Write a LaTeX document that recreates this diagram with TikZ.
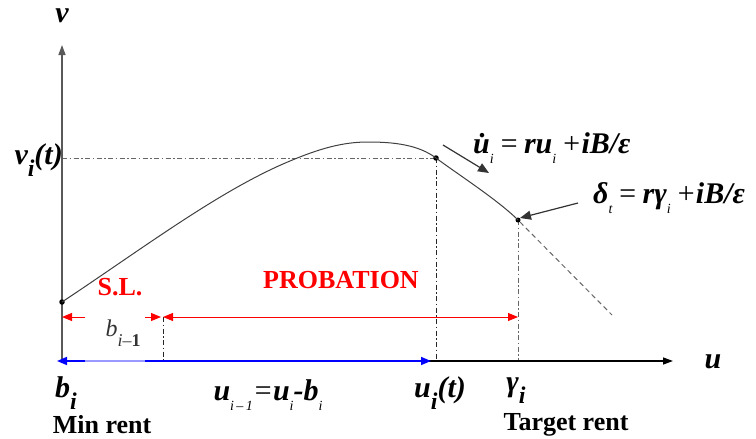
\documentclass[tikz,border=0pt]{standalone}
\usepackage{fontspec}
\setmainfont{Liberation Serif}
\usepackage{amsmath}
\usetikzlibrary{arrows.meta}
\newcommand\ls[1]{\raisebox{-0.35em}{\mdseries\itshape\fontsize{14}{14}\selectfont #1}}
\newcommand\bs[1]{\raisebox{-0.4em}{\fontsize{24}{24}\selectfont #1}}
\begin{document}
\begin{tikzpicture}[x=1pt,y=-1pt,
  axis/.style={draw=black!65, line width=1.3pt, -{Triangle[length=10pt,width=7pt]}},
  ddot/.style={draw=black!60, line width=0.9pt, dash pattern=on 5pt off 2.5pt on 1.5pt off 2.5pt},
  curve/.style={draw=black!75, line width=1pt},
  lbl/.style={inner sep=0pt, font=\fontsize{30}{32}\selectfont\bfseries\itshape},
  txt/.style={inner sep=0pt, font=\fontsize{26}{28}\selectfont\bfseries},
  redtxt/.style={txt, text=red},
  redarr/.style={draw=red, line width=1pt, -{Triangle[length=10pt,width=8pt]}},
  bluearr/.style={draw=blue, line width=1.5pt, {Triangle[length=10pt,width=8pt]}-{Triangle[length=10pt,width=8pt]}},
  blkarr/.style={draw=black!80, line width=1.2pt, -{Triangle[length=11pt,width=9pt]}},
  pt/.style={fill=black, circle, inner sep=0pt, minimum size=5.5pt}
]
\useasboundingbox (0,0) rectangle (756,439);
% key coordinates
\coordinate (O) at (62,361);
\coordinate (vtop) at (62,45);
\coordinate (uend) at (673,361);
\coordinate (BL) at (57,361);
\coordinate (BR) at (431,361);
\coordinate (BG1) at (85,361);
\coordinate (BG2) at (145,361);
\coordinate (VI) at (62,158);
\coordinate (UI) at (436,361);
\coordinate (GI) at (518,361);
\coordinate (BD) at (163,361);
\coordinate (R1) at (62,317);
\coordinate (RG1) at (85,317);
\coordinate (RG2) at (145,317);
\coordinate (R2) at (161,317);
\coordinate (R3) at (163,317);
\coordinate (R4) at (518,317);
\coordinate (P3) at (612,315);
\coordinate (A1) at (443,145);
\coordinate (A2) at (489,173);
\coordinate (D1) at (578,203);
\coordinate (D2) at (520,218);

% dash-dot guides
\draw[ddot] (VI) -- (436,158);
\draw[ddot, draw=black!85] (436,158) -- (UI);
\draw[ddot] (518,220) -- (GI);
\draw[ddot, draw=black!85] (R3) -- (BD);

% axes
\draw[axis] (62,363) -- (vtop);
\draw[axis, draw=black] (O) -- (uend);

% blue arrow
\draw[bluearr] (BR) -- (BL);
\draw[draw=blue!40, line width=1.5pt] (BG1) -- (BG2);

% red arrows
\draw[redarr] (RG1) -- (R1);
\draw[redarr] (RG2) -- (R2);
\draw[redarr, {Triangle[length=10pt,width=8pt]}-{Triangle[length=10pt,width=8pt]}] (R3) -- (R4);

% curve
\node[pt] (P0) at (62,302) {};
\node[pt] (P1) at (436,158) {};
\node[pt, minimum size=5pt] (P2) at (518,220) {};
\draw[curve] (62,302) .. controls (142,249) and (220,190) .. (290,161)
  .. controls (320,148.4) and (343,142) .. (368,142)
  .. controls (393,142) and (418,144.5) .. (436,158)
  .. controls (456,173) and (498,200) .. (518,220);
\draw[draw=black!60, line width=1pt, dash pattern=on 5pt off 3.5pt] (P2) -- (P3);

% arrows to formulas
\draw[blkarr] (A1) -- (A2);
\draw[blkarr] (D1) -- (D2);

% labels
\node[lbl] (vlab) at (62,16) {v};
\node[lbl] (ulab) at (713,362) {u};
\node[lbl, anchor=east] (vit) at (63,160) {v\bs{i}(t)};
\node[lbl, anchor=west] (ueq) at (473,148) {\.{u}\ls{i}\,{\mdseries=}\,ru\ls{i}\,{\mdseries+}iB/ε};
\node[lbl, anchor=west] (deq) at (593,198) {δ\ls{t}\,{\mdseries=}\,rγ\ls{i}\,{\mdseries+}iB/ε};
\node[lbl] (bi) at (66,393) {b\bs{i}};
\node[lbl] (ueq2) at (268,395) {u\ls{i\,–\,1}{\mdseries=}u\ls{i}-b\ls{i}};
\node[lbl] (uit) at (440,393) {u\bs{i}(t)};
\node[lbl] (gi) at (516,391) {γ\bs{i}};
\node[txt] (minr) at (102,425) {Min rent};
\node[txt] (targ) at (566,425) {Target rent};
\node[redtxt] (sl) at (120,287) {S.L.};
\node[redtxt] (prob) at (341,280) {PROBATION};
\node[inner sep=0pt, font=\fontsize{24}{24}\selectfont, text=black!80] (bim) at (123,333) {\itshape b\raisebox{-0.4em}{\fontsize{18}{18}\selectfont\itshape i\upshape–\bfseries 1}};
\end{tikzpicture}
\end{document}
